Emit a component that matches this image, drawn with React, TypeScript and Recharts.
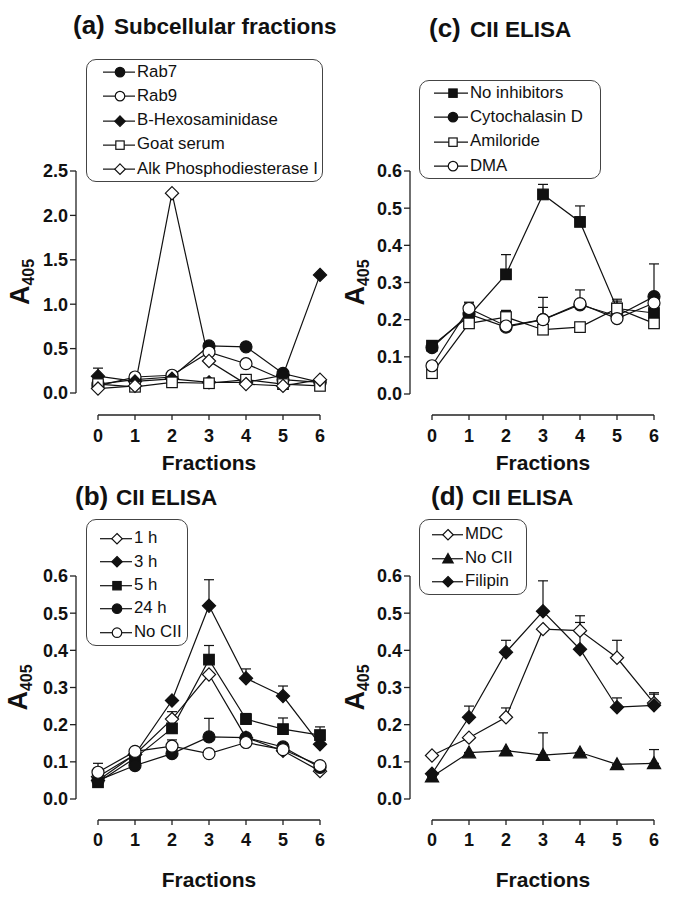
import React from 'react';
import { ErrorBar, Legend, Line, LineChart, XAxis, YAxis } from 'recharts';

const FONT = "Arial, 'Liberation Sans', Helvetica, sans-serif";
const INK = '#111';
const AXIS = '#222';

const FRACTIONS = [0, 1, 2, 3, 4, 5, 6];
const TICKS_A = [0, 0.5, 1, 1.5, 2, 2.5];
const TICKS_ELISA = [0, 0.1, 0.2, 0.3, 0.4, 0.5, 0.6];

// (a) Subcellular fractions
const rab7 = [0.1, 0.15, 0.18, 0.53, 0.52, 0.22, 0.12];
const rab9 = [0.08, 0.18, 0.2, 0.46, 0.33, 0.15, 0.12];
const bHex = [0.19, 0.13, 0.16, 0.12, 0.12, 0.2, 1.33];
const bHexErr = [0.09, 0, 0, 0, 0, 0, 0];
const goatSerum = [0.1, 0.07, 0.12, 0.11, 0.15, 0.1, 0.08];
const alkPhos = [0.05, 0.08, 2.25, 0.36, 0.1, 0.08, 0.15];

// (c) CII ELISA, inhibitors
const noInhib = [0.13, 0.21, 0.322, 0.537, 0.463, 0.23, 0.218];
const noInhibErr = [0, 0, 0.053, 0.027, 0.043, 0.02, 0];
const cytoD = [0.125, 0.215, 0.18, 0.2, 0.24, 0.21, 0.262];
const cytoDErr = [0, 0.03, 0.045, 0.06, 0.04, 0.045, 0.088];
const amiloride = [0.056, 0.19, 0.207, 0.173, 0.18, 0.23, 0.19];
const amilorideErr = [0, 0, 0.015, 0.06, 0, 0, 0];
const dma = [0.076, 0.23, 0.183, 0.2, 0.243, 0.203, 0.245];
const dmaErr = [0, 0.017, 0, 0, 0, 0, 0];

// (b) CII ELISA, time course
const h1 = [0.06, 0.12, 0.215, 0.335, 0.165, 0.13, 0.075];
const h1Err = [0, 0, 0.02, 0, 0, 0, 0];
const h3 = [0.05, 0.12, 0.265, 0.52, 0.325, 0.277, 0.147];
const h3Err = [0, 0, 0, 0.07, 0.025, 0.027, 0];
const h5 = [0.045, 0.11, 0.19, 0.375, 0.215, 0.188, 0.172];
const h5Err = [0, 0, 0, 0.038, 0.015, 0.03, 0.022];
const h24 = [0.05, 0.09, 0.122, 0.167, 0.165, 0.14, 0.085];
const h24Err = [0, 0, 0, 0.05, 0, 0, 0];
const noCiiB = [0.072, 0.128, 0.142, 0.122, 0.152, 0.133, 0.09];
const noCiiBErr = [0.024, 0, 0.017, 0, 0, 0, 0];

// (d) CII ELISA, MDC / filipin
const mdc = [0.117, 0.165, 0.22, 0.457, 0.453, 0.38, 0.258];
const mdcErr = [0, 0, 0.025, 0, 0.04, 0.047, 0.028];
const noCiiD = [0.06, 0.125, 0.13, 0.118, 0.125, 0.093, 0.096];
const noCiiDErr = [0, 0, 0, 0.06, 0, 0, 0.037];
const filipin = [0.068, 0.22, 0.395, 0.505, 0.403, 0.247, 0.252];
const filipinErr = [0, 0.03, 0.032, 0.082, 0.072, 0.025, 0.03];

type Shape = 'circle' | 'square' | 'diamond' | 'triangle';

interface Series {
  key: string;
  name: string;
  values: number[];
  errors?: number[];
  shape: Shape;
  filled: boolean;
}

interface LegendGeo {
  left: number;
  top: number;
  width: number;
  rowH: number;
  padTop: number;
  padBottom: number;
  lineX0: number;
  lineX1: number;
  markerX: number;
}

interface Geo {
  left: number;
  top: number;
  width: number;
  height: number;
  plotTop: number;
  plotHeight: number;
  yAxisWidth: number;
  marginRight: number;
  axisGap: number;
  tickLabelDy: number;
  xLabelDy: number;
  yLabelX: number;
  legend: LegendGeo;
}

const STEP = 37;
const PAD_LEFT = 22;

function Marker({ cx, cy, shape, filled, size }: { cx: number; cy: number; shape: Shape; filled: boolean; size: number }) {
  const fill = filled ? INK : '#fff';
  const common = { fill, stroke: INK, strokeWidth: 1.2 };
  if (shape === 'circle') return <circle cx={cx} cy={cy} r={size / 2} {...common} />;
  if (shape === 'square') {
    const s = size * 0.88;
    return <rect x={cx - s / 2} y={cy - s / 2} width={s} height={s} {...common} />;
  }
  if (shape === 'diamond') {
    const d = size * 0.55;
    return <polygon points={`${cx},${cy - d} ${cx + d},${cy} ${cx},${cy + d} ${cx - d},${cy}`} {...common} />;
  }
  const t = size * 0.55;
  return <polygon points={`${cx},${cy - t} ${cx + t},${cy + t * 0.8} ${cx - t},${cy + t * 0.8}`} {...common} />;
}

function LegendBox({ series, g }: { series: Series[]; g: LegendGeo }) {
  return (
    <div
      style={{
        width: g.width,
        boxSizing: 'border-box',
        border: '1.5px solid #444',
        borderRadius: 10,
        background: '#fff',
        paddingTop: g.padTop,
        paddingBottom: g.padBottom,
        fontFamily: FONT,
        fontSize: 16.8,
        color: INK,
      }}
    >
      {series.map((s) => (
        <div key={s.key} style={{ display: 'flex', alignItems: 'center', height: g.rowH }}>
          <svg width={g.lineX1 + 2} height={g.rowH} style={{ flex: 'none', display: 'block' }}>
            <line x1={g.lineX0} x2={g.lineX1} y1={g.rowH / 2} y2={g.rowH / 2} stroke={INK} strokeWidth={1.2} />
            <Marker cx={g.markerX} cy={g.rowH / 2} shape={s.shape} filled={s.filled} size={9.5} />
          </svg>
          <span style={{ whiteSpace: 'nowrap', lineHeight: 1 }}>{s.name}</span>
        </div>
      ))}
    </div>
  );
}

function FractionTick(props: any) {
  const { x, payload, index, axisY, labelY } = props;
  return (
    <g>
      {index === 0 && (
        <line x1={x} x2={x + STEP * 6} y1={axisY} y2={axisY} stroke={AXIS} strokeWidth={1.3} />
      )}
      <line x1={x} x2={x} y1={axisY} y2={axisY + 5} stroke={AXIS} strokeWidth={1.3} />
      <text x={x} y={labelY} textAnchor="middle" fontSize={18} fontWeight="bold" fill={INK} fontFamily={FONT}>
        {payload.value}
      </text>
    </g>
  );
}

function Panel({ g, series, yMax, yTicks }: { g: Geo; series: Series[]; yMax: number; yTicks: number[] }) {
  const data = FRACTIONS.map((f, i) => {
    const row: Record<string, any> = { f };
    series.forEach((s) => {
      row[s.key] = s.values[i];
      row[`${s.key}Err`] = [0, s.errors ? s.errors[i] : 0];
    });
    return row;
  });
  const plotBottom = g.plotTop + g.plotHeight;
  const xCenter = g.yAxisWidth + PAD_LEFT + STEP * 3;
  return (
    <div style={{ position: 'absolute', left: g.left, top: g.top }}>
      <LineChart
        width={g.width}
        height={g.height}
        data={data}
        margin={{ top: g.plotTop, right: g.marginRight, bottom: 0, left: 0 }}
      >
        <XAxis
          dataKey="f"
          type="number"
          domain={[0, 6]}
          ticks={FRACTIONS}
          interval={0}
          padding={{ left: PAD_LEFT, right: 0 }}
          axisLine={false}
          tickLine={false}
          height={g.height - plotBottom}
          tick={(p: any) => (
            <FractionTick {...p} axisY={plotBottom + g.axisGap} labelY={plotBottom + g.tickLabelDy} />
          )}
          label={{
            content: () => (
              <text x={xCenter} y={plotBottom + g.xLabelDy} textAnchor="middle" fontSize={21} fontWeight="bold" fill={INK} fontFamily={FONT}>
                Fractions
              </text>
            ),
          }}
        />
        <YAxis
          type="number"
          domain={[0, yMax]}
          ticks={yTicks}
          interval={0}
          width={g.yAxisWidth}
          tickFormatter={(v: number) => v.toFixed(1)}
          axisLine={{ stroke: AXIS, strokeWidth: 1.3 }}
          tickLine={{ stroke: AXIS, strokeWidth: 1.3 }}
          tickSize={6}
          tick={{ fontSize: 18, fontWeight: 'bold', fill: INK, fontFamily: FONT }}
          label={{
            content: () => {
              const cy = g.plotTop + g.plotHeight / 2;
              return (
                <text
                  x={g.yLabelX}
                  y={cy}
                  transform={`rotate(-90, ${g.yLabelX}, ${cy})`}
                  textAnchor="middle"
                  fontWeight="bold"
                  fill={INK}
                  fontFamily={FONT}
                >
                  <tspan fontSize={27}>A</tspan>
                  <tspan fontSize={16} dy={5}>405</tspan>
                </text>
              );
            },
          }}
        />
        <Legend
          layout="vertical"
          align="center"
          verticalAlign="middle"
          wrapperStyle={{ left: g.legend.left, top: g.legend.top, width: g.legend.width }}
          content={() => <LegendBox series={series} g={g.legend} />}
        />
        {series.map((s) => (
          <Line
            key={s.key}
            type="linear"
            dataKey={s.key}
            name={s.name}
            stroke={INK}
            strokeWidth={1.2}
            isAnimationActive={false}
            activeDot={false}
            dot={(p: any) => (
              <Marker key={`${s.key}-${p.index}`} cx={p.cx} cy={p.cy} shape={s.shape} filled={s.filled} size={12} />
            )}
          >
            <ErrorBar dataKey={`${s.key}Err`} direction="y" width={5} stroke={INK} strokeWidth={1.2} />
          </Line>
        ))}
      </LineChart>
    </div>
  );
}

const seriesA: Series[] = [
  { key: 'rab7', name: 'Rab7', values: rab7, shape: 'circle', filled: true },
  { key: 'rab9', name: 'Rab9', values: rab9, shape: 'circle', filled: false },
  { key: 'bhex', name: 'B-Hexosaminidase', values: bHex, errors: bHexErr, shape: 'diamond', filled: true },
  { key: 'goat', name: 'Goat serum', values: goatSerum, shape: 'square', filled: false },
  { key: 'alk', name: 'Alk Phosphodiesterase I', values: alkPhos, shape: 'diamond', filled: false },
];

const seriesC: Series[] = [
  { key: 'noinhib', name: 'No inhibitors', values: noInhib, errors: noInhibErr, shape: 'square', filled: true },
  { key: 'cyto', name: 'Cytochalasin D', values: cytoD, errors: cytoDErr, shape: 'circle', filled: true },
  { key: 'amil', name: 'Amiloride', values: amiloride, errors: amilorideErr, shape: 'square', filled: false },
  { key: 'dma', name: 'DMA', values: dma, errors: dmaErr, shape: 'circle', filled: false },
];

const seriesB: Series[] = [
  { key: 'h1', name: '1 h', values: h1, errors: h1Err, shape: 'diamond', filled: false },
  { key: 'h3', name: '3 h', values: h3, errors: h3Err, shape: 'diamond', filled: true },
  { key: 'h5', name: '5 h', values: h5, errors: h5Err, shape: 'square', filled: true },
  { key: 'h24', name: '24 h', values: h24, errors: h24Err, shape: 'circle', filled: true },
  { key: 'nocii', name: 'No CII', values: noCiiB, errors: noCiiBErr, shape: 'circle', filled: false },
];

const seriesD: Series[] = [
  { key: 'mdc', name: 'MDC', values: mdc, errors: mdcErr, shape: 'diamond', filled: false },
  { key: 'nocii', name: 'No CII', values: noCiiD, errors: noCiiDErr, shape: 'triangle', filled: true },
  { key: 'filipin', name: 'Filipin', values: filipin, errors: filipinErr, shape: 'diamond', filled: true },
];

const geoA: Geo = {
  left: 0, top: 0, width: 340, height: 480, plotTop: 171, plotHeight: 222, yAxisWidth: 76, marginRight: 20,
  axisGap: 22, tickLabelDy: 48.5, xLabelDy: 76.5, yLabelX: 29,
  legend: { left: 86, top: 59, width: 237, rowH: 24.25, padTop: 0, padBottom: 0, lineX0: 16, lineX1: 48, markerX: 33 },
};
const geoC: Geo = {
  left: 340, top: 0, width: 345, height: 480, plotTop: 171, plotHeight: 223, yAxisWidth: 70, marginRight: 31,
  axisGap: 21, tickLabelDy: 47.5, xLabelDy: 75.5, yLabelX: 24,
  legend: { left: 79, top: 80, width: 182, rowH: 24.3, padTop: 0, padBottom: 0, lineX0: 14, lineX1: 48, markerX: 33 },
};
const geoB: Geo = {
  left: 0, top: 480, width: 340, height: 419, plotTop: 96, plotHeight: 223, yAxisWidth: 76, marginRight: 20,
  axisGap: 21, tickLabelDy: 46.5, xLabelDy: 88, yLabelX: 27,
  legend: { left: 86, top: 39, width: 102, rowH: 23.4, padTop: 7, padBottom: 1, lineX0: 13, lineX1: 45, markerX: 30 },
};
const geoD: Geo = {
  left: 340, top: 480, width: 345, height: 419, plotTop: 96, plotHeight: 223, yAxisWidth: 70, marginRight: 31,
  axisGap: 21, tickLabelDy: 46.5, xLabelDy: 88, yLabelX: 24,
  legend: { left: 79, top: 39, width: 108, rowH: 23.5, padTop: 3, padBottom: 0, lineX0: 12, lineX1: 43, markerX: 28 },
};

function Title({ x, y, tag, text }: { x: number; y: number; tag: string; text: string }) {
  return (
    <g fontFamily={FONT} fontWeight="bold" fill={INK}>
      <text x={x} y={y} fontSize={26}>{tag}</text>
      <text x={x + 41} y={y} fontSize={22.5}>{text}</text>
    </g>
  );
}

export default function App() {
  return (
    <div style={{ position: 'absolute', left: 0, top: 0, width: 685, height: 899, background: '#fff', overflow: 'hidden' }}>
      <Panel g={geoA} series={seriesA} yMax={2.5} yTicks={TICKS_A} />
      <Panel g={geoC} series={seriesC} yMax={0.6} yTicks={TICKS_ELISA} />
      <Panel g={geoB} series={seriesB} yMax={0.6} yTicks={TICKS_ELISA} />
      <Panel g={geoD} series={seriesD} yMax={0.6} yTicks={TICKS_ELISA} />
      <svg width={685} height={899} style={{ position: 'absolute', left: 0, top: 0, pointerEvents: 'none' }}>
        <Title x={73} y={34} tag="(a)" text="Subcellular fractions" />
        <Title x={429} y={37} tag="(c)" text="CII ELISA" />
        <Title x={75} y={505} tag="(b)" text="CII ELISA" />
        <Title x={431} y={505} tag="(d)" text="CII ELISA" />
      </svg>
    </div>
  );
}
